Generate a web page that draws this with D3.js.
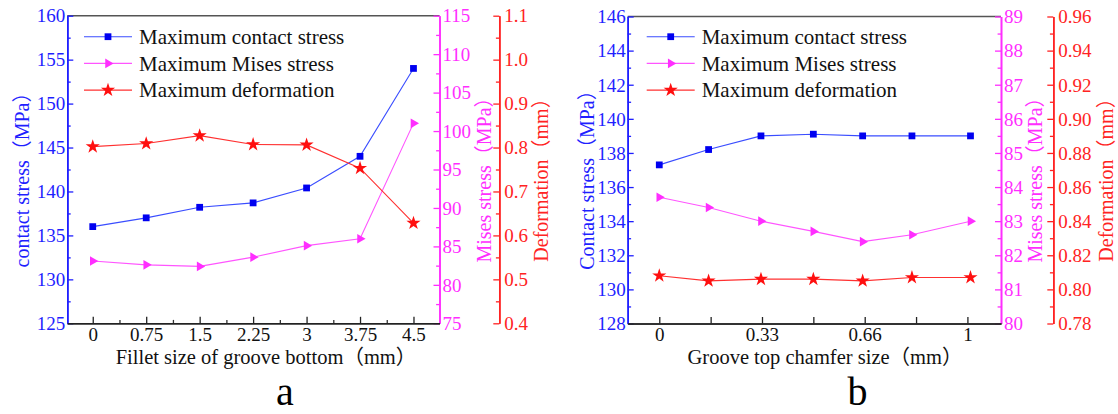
<!DOCTYPE html>
<html>
<head>
<meta charset="utf-8">
<script src="https://cdn.jsdelivr.net/npm/d3@7"></script>
<style>
body { margin: 0; background: #fff; }
svg { display: block; }
svg text { font-family: "Liberation Serif", "Times New Roman", "Noto Sans CJK SC", serif; }
</style>
</head>
<body>
<svg id="chart" width="1118" height="414"></svg>
<script>
// Panel a: fillet size of groove bottom
const filletSize = [0, 0.75, 1.5, 2.25, 3, 3.75, 4.5];
const filletLabels = ["0", "0.75", "1.5", "2.25", "3", "3.75", "4.5"];
const filletContact = [136, 137, 138.2, 138.7, 140.4, 144, 154];
const filletMises = [83.1, 82.6, 82.4, 83.6, 85.1, 86.0, 101.0];
const filletDeform = [0.802, 0.809, 0.827, 0.807, 0.806, 0.753, 0.628];

// Panel b: groove top chamfer size
const chamferSize = [0, 0.16, 0.33, 0.5, 0.66, 0.82, 1.01];
const chamferTicks = [0, 1 / 6, 2 / 6, 3 / 6, 4 / 6, 5 / 6, 1];
const chamferLabels = ["0", "", "0.33", "", "0.66", "", "1"];
const chamferContact = [137.3, 138.2, 139.0, 139.1, 139.0, 139.0, 139.0];
const chamferMises = [83.7, 83.4, 83.0, 82.7, 82.4, 82.6, 83.0];
const chamferDeform = [0.808, 0.805, 0.806, 0.806, 0.805, 0.807, 0.807];

const seriesNames = ["Maximum contact stress", "Maximum Mises stress", "Maximum deformation"];

const BLUE = "#1f1fff", MAG = "#ff2eff", RED = "#ff2323";
const svg = d3.select("#chart");

// one panel with three y axes
function drawPanel(p) {
    const g = svg.append("g");

    const x = d3.scaleLinear().domain(p.xDomain).range([p.left, p.right]);
    const yBlue = d3.scaleLinear().domain(p.blueDomain).range([p.bottom, p.top]);
    const yMag = d3.scaleLinear().domain(p.magDomain).range([p.bottom, p.top]);
    const yRed = d3.scaleLinear().domain(p.redDomain).range([p.bottom, p.top]);

    // top border
    g.append("line")
        .attr("x1", p.left).attr("x2", p.right)
        .attr("y1", p.top).attr("y2", p.top)
        .attr("stroke", "#555").attr("stroke-width", 1.6);

    function styleAxis(sel, color, size) {
        sel.attr("font-family", null);
        sel.select(".domain").attr("stroke", color).attr("stroke-width", 1.6);
        sel.selectAll(".tick line").attr("stroke", color).attr("stroke-width", 1.3);
        sel.selectAll(".tick text").attr("fill", color).style("font-size", size + "px");
    }

    function yAxis(axisFn, scale, xPos, color, majors, minors, fmt, pad) {
        g.append("g").attr("transform", `translate(${xPos},0)`)
            .call(axisFn(scale).tickValues(minors).tickSize(-3.4).tickSizeOuter(0).tickFormat(""))
            .call(s => styleAxis(s, color, 19));
        g.append("g").attr("transform", `translate(${xPos},0)`)
            .call(axisFn(scale).tickValues(majors).tickSize(-6).tickSizeOuter(0).tickPadding(pad).tickFormat(fmt))
            .call(s => styleAxis(s, color, 19))
            .call(s => s.selectAll(".tick text").attr("dy", "0.33em"));
    }

    yAxis(d3.axisLeft, yBlue, p.left, BLUE, p.blueTicks, p.blueMinor, d3.format("d"), 2);
    yAxis(d3.axisRight, yMag, p.right, MAG, p.magTicks, p.magMinor, d3.format("d"), 3);
    yAxis(d3.axisRight, yRed, p.redX, RED, p.redTicks, p.redMinor, d3.format(p.redFmt), 5);

    // bottom axis
    g.append("g").attr("transform", `translate(0,${p.bottom})`)
        .call(d3.axisBottom(x).tickValues(p.xMinor).tickSize(-3.4).tickSizeOuter(0).tickFormat(""))
        .call(s => styleAxis(s, "#333", 19));
    g.append("g").attr("transform", `translate(0,${p.bottom})`)
        .call(d3.axisBottom(x).tickValues(p.xTicks).tickSize(-6.5).tickSizeOuter(0).tickPadding(4)
            .tickFormat((d, i) => p.xLabels[i]))
        .call(s => styleAxis(s, "#222", 19))
        .call(s => s.selectAll(".tick text").attr("fill", "#111"));

    const series = [
        { vals: p.contact, y: yBlue, line: "#3a4dff", fill: "#0000f0", sym: d3.symbolSquare, size: 46, rot: 0 },
        { vals: p.mises, y: yMag, line: "#ff55ff", fill: "#ff2eff", sym: d3.symbolTriangle, size: 40, rot: 90 },
        { vals: p.deform, y: yRed, line: "#ff3030", fill: "#ff0f0f", sym: d3.symbolStar, size: 62, rot: 0 }
    ];

    series.forEach(s => {
        const pts = p.xs.map((v, i) => [x(v), s.y(s.vals[i])]);
        g.append("path")
            .attr("d", d3.line()(pts))
            .attr("fill", "none").attr("stroke", s.line).attr("stroke-width", 1.1);
        g.append("g").selectAll("path").data(pts).join("path")
            .attr("d", d3.symbol().type(s.sym).size(s.size))
            .attr("transform", d => `translate(${d[0]},${d[1]}) rotate(${s.rot})`)
            .attr("fill", s.fill);
    });

    // legend
    series.forEach((s, i) => {
        const yy = p.legY + i * 26.7;
        g.append("line")
            .attr("x1", p.legX).attr("x2", p.legX + 48)
            .attr("y1", yy).attr("y2", yy)
            .attr("stroke", s.line).attr("stroke-width", 1.1);
        g.append("path")
            .attr("d", d3.symbol().type(s.sym).size(s.size)())
            .attr("transform", `translate(${p.legX + 24},${yy}) rotate(${s.rot})`)
            .attr("fill", s.fill);
        g.append("text")
            .attr("x", p.legX + 55).attr("y", yy).attr("dy", "0.34em")
            .style("font-size", "21px").attr("fill", "#111")
            .text(seriesNames[i]);
    });

    // axis titles
    const titles = [
        { t: p.blueTitle, x: p.blueTitleX, c: BLUE },
        { t: "Mises stress（MPa）", x: p.magTitleX, c: MAG },
        { t: "Deformation（mm）", x: p.redTitleX, c: RED }
    ];
    titles.forEach(t => {
        g.append("text")
            .attr("transform", `translate(${t.x},175) rotate(-90)`)
            .attr("text-anchor", "middle").attr("dy", "0.35em")
            .style("font-size", "20px").attr("fill", t.c)
            .text(t.t);
    });

    g.append("text")
        .attr("x", p.xTitleX).attr("y", 364)
        .attr("text-anchor", "middle")
        .style("font-size", "20.5px").attr("fill", "#111")
        .text(p.xTitle);

    g.append("text")
        .attr("x", p.letterX).attr("y", 405)
        .attr("text-anchor", "middle")
        .style("font-size", "40px").attr("fill", "#000")
        .text(p.letter);
}

drawPanel({
    left: 67.3, right: 439.5, top: 15.7, bottom: 323.3, redX: 499.3,
    xDomain: [-0.357, 4.865],
    xs: filletSize, xTicks: filletSize, xLabels: filletLabels,
    xMinor: d3.range(0.375, 4.5, 0.75),
    contact: filletContact, mises: filletMises, deform: filletDeform,
    blueDomain: [125, 160], blueTicks: d3.range(125, 161, 5), blueMinor: d3.range(127.5, 160, 5),
    magDomain: [75, 115], magTicks: d3.range(75, 116, 5), magMinor: d3.range(77.5, 115, 5),
    redDomain: [0.4, 1.1], redTicks: d3.range(4, 12).map(d => d / 10),
    redMinor: d3.range(4, 11).map(d => d / 10 + 0.05), redFmt: ".1f",
    legX: 84, legY: 36.7,
    blueTitle: "contact stress（MPa）", blueTitleX: 22, magTitleX: 484, redTitleX: 541,
    xTitle: "Fillet size of groove bottom（mm）", xTitleX: 266,
    letter: "a", letterX: 285
});

drawPanel({
    left: 627.7, right: 1001, top: 16.5, bottom: 323.5, redX: 1053.3,
    xDomain: [-0.1025, 1.109],
    xs: chamferSize, xTicks: chamferTicks, xLabels: chamferLabels,
    xMinor: [],
    contact: chamferContact, mises: chamferMises, deform: chamferDeform,
    blueDomain: [128, 146], blueTicks: d3.range(128, 147, 2), blueMinor: d3.range(129, 146, 2),
    magDomain: [80, 89], magTicks: d3.range(80, 90, 1), magMinor: d3.range(80.5, 89, 1),
    redDomain: [0.78, 0.96], redTicks: d3.range(78, 97, 2).map(d => d / 100),
    redMinor: d3.range(79, 96, 2).map(d => d / 100), redFmt: ".2f",
    legX: 646.7, legY: 36.7,
    blueTitle: "Contact stress（MPa）", blueTitleX: 587, magTitleX: 1035, redTitleX: 1106,
    xTitle: "Groove top chamfer size（mm）", xTitleX: 825,
    letter: "b", letterX: 857.5
});
</script>
</body>
</html>
